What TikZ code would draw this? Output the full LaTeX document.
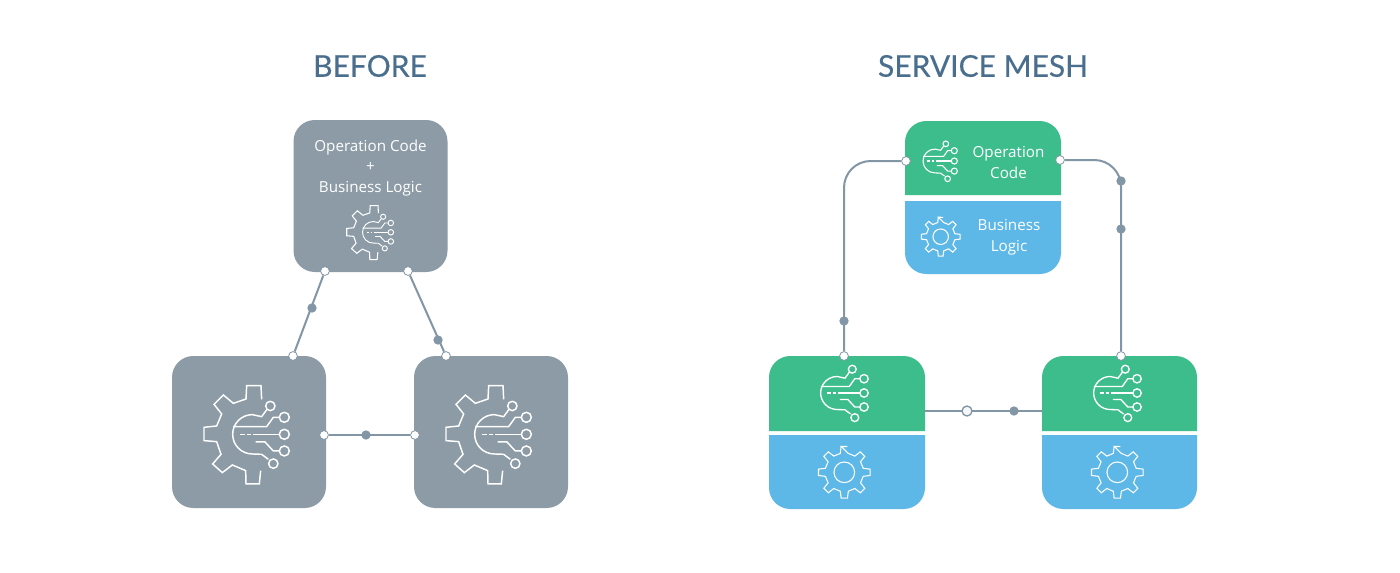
\documentclass[tikz,border=0pt]{standalone}
\usepackage{fontspec}
\setmainfont{Open Sans}
\newfontfamily\titlefont{Lato}[BoldFont=Lato,BoldFeatures={FakeBold=0.4}]
\definecolor{boxgray}{HTML}{8C9BA6}
\definecolor{meshgreen}{HTML}{3DBD8C}
\definecolor{meshblue}{HTML}{5DB8E8}
\definecolor{wire}{HTML}{8296A5}
\definecolor{titleblue}{HTML}{4A6F8E}
\tikzset{
  graybox/.style={fill=boxgray,draw=none,rounded corners=16pt,minimum width=115.5pt,minimum height=114pt,inner sep=0pt},
  greenpart/.style={fill=meshgreen,draw=none},
  bluepart/.style={fill=meshblue,draw=none},
  wireline/.style={draw=wire,line width=1.5pt},
  portdot/.style={circle,fill=white,draw=wire,line width=.6pt,inner sep=0pt,minimum size=6.6pt},
  middot/.style={circle,fill=wire,draw=none,inner sep=0pt,minimum size=7pt},
  opendot/.style={circle,fill=white!92!wire,draw=wire,line width=1pt,inner sep=0pt,minimum size=7.5pt},
  titletext/.style={font=\titlefont\bfseries\fontsize{22.5}{26}\selectfont,text=titleblue},
  boxtext/.style={font=\fontsize{11.4}{15.4}\selectfont,text=white,align=center},
  iconline/.style={draw=white,line join=miter}
}
\newcommand{\chipicon}[4]{%
\begin{scope}[shift={(#1,#2)},x={#3*0.75pt},y={-#3*0.75pt},iconline,line width=#4pt]
  \draw (51,-75)--(35,-53)--(7,-59) arc[start angle=-90,end angle=-270,radius=59] --(35,60)--(55,75);
  \draw (61,-85) circle[radius=14];
  \draw (70,88) circle[radius=14];
  \draw (-51,-23)--(50,-23)--(70,-51)--(88,-51);
  \draw (103,-51) circle[radius=15];
  \draw (-30,0)--(-15,0) (-8,0)--(2,0) (10,0)--(88,0);
  \draw (103,0) circle[radius=15];
  \draw (17,23)--(45,23)--(70,50)--(88,50);
  \draw (103,50) circle[radius=15];
\end{scope}}
\newcommand{\outergear}[4]{%
\begin{scope}[shift={(#1,#2)},x={#3*0.75pt},y={-#3*0.75pt},iconline,line width=#4pt]
  \draw (35,-105)--(33,-146)--(-10,-146)--(-12,-106)--(-50,-93)--(-80,-118)--(-108,-90)--(-85,-61)--(-100,-25)--(-138,-21)--(-138,19)--(-100,22)--(-87,60)--(-112,89)--(-83,115)--(-53,92)--(-13,109)--(-12,149)--(28,149)--(32,109);
\end{scope}}
\newcommand{\cogicon}[3]{%
\begin{scope}[shift={(#1,#2)},x={#3*0.75pt},y={#3*0.75pt},iconline,line width=.8pt]
  \draw (-9,78)
    \foreach \a in {0,45,...,315} {
      -- ++(0,0) -- ({\a+90-7}:78) -- ({\a+90+7}:78) -- ({\a+90+12}:58) -- ({\a+90+33}:58)
    } -- cycle;
  \draw (0,0) circle[radius=31];
\end{scope}}
\begin{document}
\begin{tikzpicture}[x=0.75pt,y=-0.75pt]
\useasboundingbox (0,0) rectangle (1400,572);
\fill[white] (0,0) rectangle (1400,572);

% titles
\node[titletext] (titleA) at (370,66) {BEFORE};
\node[titletext] (titleB) at (983,66) {SERVICE MESH};

% BEFORE boxes
\node[graybox] (beforeTop) at (370.5,196) {};
\node[graybox] (beforeL) at (249,432) {};
\node[graybox] (beforeR) at (491,432) {};
\node[boxtext] (beforeText) at (370.5,168) {Operation Code\\+\\Business Logic};
\outergear{250}{434.3}{0.3333}{1.1}
\chipicon{250}{434.3}{0.3333}{1.1}
\outergear{492}{434.3}{0.3333}{1.1}
\chipicon{492}{434.3}{0.3333}{1.1}
\outergear{372}{232.3}{0.183}{.8}
\chipicon{372}{232.3}{0.183}{.7}

% SERVICE MESH boxes
\fill[greenpart] (905,195) [rounded corners=16pt] -- (905,121) -- (1061,121) [sharp corners] -- (1061,195) -- cycle;
\fill[bluepart] (905,201) -- (1061,201) [rounded corners=16pt] -- (1061,274) -- (905,274) [sharp corners] -- cycle;
\fill[greenpart] (769,431) [rounded corners=16pt] -- (769,356) -- (925,356) [sharp corners] -- (925,431) -- cycle;
\fill[bluepart] (769,435) -- (925,435) [rounded corners=16pt] -- (925,509) -- (769,509) [sharp corners] -- cycle;
\fill[greenpart] (1042,431) [rounded corners=16pt] -- (1042,356) -- (1197,356) [sharp corners] -- (1197,431) -- cycle;
\fill[bluepart] (1042,435) -- (1197,435) [rounded corners=16pt] -- (1197,509) -- (1042,509) [sharp corners] -- cycle;

\node[boxtext] (opText) at (1008.5,162.5) {Operation\\Code};
\node[boxtext] (blText) at (1009,237) {Business\\Logic};
\chipicon{933.5}{161}{0.202}{.8}
\cogicon{940.7}{236.7}{0.25}
\chipicon{835.2}{393}{0.28}{1}
\cogicon{844.3}{472.3}{0.3333}
\chipicon{1108.2}{393}{0.28}{1}
\cogicon{1117.3}{472.3}{0.3333}

% BEFORE ports and connectors
\node[portdot] (a1) at (325,271) {};
\node[portdot] (a2) at (408,271) {};
\node[portdot] (a3) at (293,356) {};
\node[portdot] (a4) at (446,356) {};
\node[portdot] (a5) at (324,435) {};
\node[portdot] (a6) at (415,435) {};
\draw[wireline] (a1) -- (a3);
\draw[wireline] (a2) -- (a4);
\draw[wireline] (a5) -- (a6);
\node[middot] (m1) at (312,308) {};
\node[middot] (m2) at (438,340) {};
\node[middot] (m3) at (366,435) {};

% SERVICE MESH ports and connectors
\node[portdot] (b1) at (906,161) {};
\node[portdot] (b2) at (1060,160) {};
\node[portdot] (b3) at (844,356) {};
\node[portdot] (b4) at (1121,356) {};
\coordinate (b5) at (925,411);
\coordinate (b6) at (1042,411);
\draw[wireline,rounded corners=20pt] (b1) -- (844,161) -- (b3);
\draw[wireline,rounded corners=20pt] (b2) -- (1121,160) -- (b4);
\draw[wireline] (b5) -- (b6);
\node[middot] (n1) at (844,321) {};
\node[middot] (n2) at (1121,181) {};
\node[middot] (n3) at (1121,229) {};
\node[opendot] (n4) at (967,411) {};
\node[middot] (n5) at (1014,411) {};
\end{tikzpicture}
\end{document}
